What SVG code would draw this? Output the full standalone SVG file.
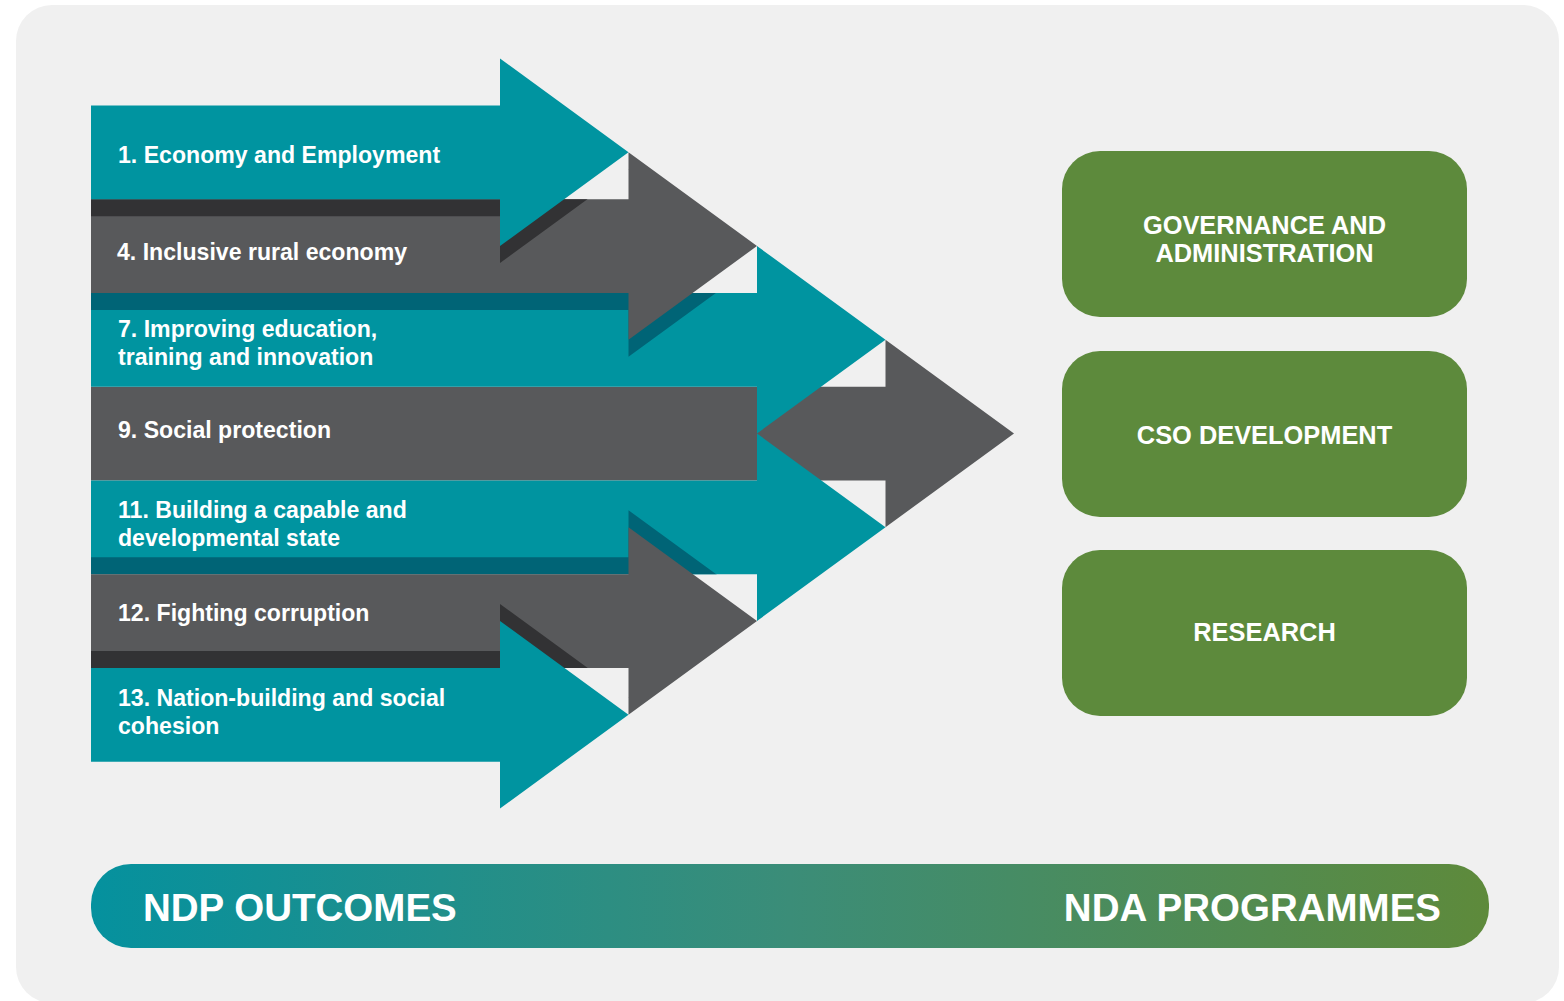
<svg xmlns="http://www.w3.org/2000/svg" xmlns:xlink="http://www.w3.org/1999/xlink" width="1564" height="1001" viewBox="0 0 1564 1001">
  <style>
    .teal { fill: #0094a0; }
    .grey { fill: #58595b; }
    .shade-grey { fill: #323234; }
    .shade-teal { fill: #006476; }
    .prog { fill: #5d8a3c; }
    .lbl { font-family: "Liberation Sans", Arial, sans-serif; font-weight: bold; fill: #ffffff; }
    .row { font-size: 23.1px; }
    .box { font-size: 25.4px; text-anchor: middle; }
    .band { font-size: 38.5px; }
  </style>
  <defs>
    <!-- arrow outlines: body from x=91, head 128.5 long, head half-height 93.75 -->
    <polygon id="a1" points="91,105.375 500,105.375 500,58.5 628.5,152.25 500,246 500,199.125 91,199.125"/>
    <polygon id="a2" points="91,199.125 628.5,199.125 628.5,152.25 757,246 628.5,339.75 628.5,292.875 91,292.875"/>
    <polygon id="a3" points="91,292.875 757,292.875 757,246 885.5,339.75 757,433.5 757,386.625 91,386.625"/>
    <polygon id="a4" points="91,386.625 885.5,386.625 885.5,339.75 1014,433.5 885.5,527.25 885.5,480.375 91,480.375"/>
    <polygon id="a5" points="91,480.375 757,480.375 757,433.5 885.5,527.25 757,621 757,574.125 91,574.125"/>
    <polygon id="a6" points="91,574.125 628.5,574.125 628.5,527.25 757,621 628.5,714.75 628.5,667.875 91,667.875"/>
    <polygon id="a7" points="91,667.875 500,667.875 500,621 628.5,714.75 500,808.5 500,761.625 91,761.625"/>
    <clipPath id="on-a2"><use xlink:href="#a2"/></clipPath>
    <clipPath id="on-a3"><use xlink:href="#a3"/></clipPath>
    <clipPath id="on-a5"><use xlink:href="#a5"/></clipPath>
    <clipPath id="on-a6"><use xlink:href="#a6"/></clipPath>
    <linearGradient id="band-grad" x1="0" y1="0" x2="1" y2="0">
      <stop offset="0" stop-color="#05919e"/>
      <stop offset="0.5" stop-color="#3b8d78"/>
      <stop offset="1" stop-color="#5e8a3b"/>
    </linearGradient>
  </defs>

  <rect x="0" y="0" width="1564" height="1001" fill="#ffffff"/>
  <rect x="16" y="5" width="1543" height="998" rx="36" fill="#f0f0f0"/>

  <!-- centre row sits lowest, outer rows overlap inwards -->
  <g id="outcome-9">
    <use xlink:href="#a4" class="grey"/>
    <text class="lbl row" x="118" y="438">9. Social protection</text>
  </g>
  <g id="outcome-7">
    <use xlink:href="#a3" class="teal"/>
    <text class="lbl row" x="118" y="337">7. Improving education,</text>
    <text class="lbl row" x="118" y="365">training and innovation</text>
  </g>
  <g id="outcome-11">
    <use xlink:href="#a5" class="teal"/>
    <text class="lbl row" x="118" y="518">11. Building a capable and</text>
    <text class="lbl row" x="118" y="546">developmental state</text>
  </g>
  <g id="outcome-4">
    <g clip-path="url(#on-a3)"><use xlink:href="#a2" class="shade-teal" transform="translate(0,17)"/></g>
    <use xlink:href="#a2" class="grey"/>
    <text class="lbl row" x="117" y="260">4. Inclusive rural economy</text>
  </g>
  <g id="outcome-12">
    <g clip-path="url(#on-a5)"><use xlink:href="#a6" class="shade-teal" transform="translate(0,-17)"/></g>
    <use xlink:href="#a6" class="grey"/>
    <text class="lbl row" x="118" y="621">12. Fighting corruption</text>
  </g>
  <g id="outcome-1">
    <g clip-path="url(#on-a2)"><use xlink:href="#a1" class="shade-grey" transform="translate(0,17)"/></g>
    <use xlink:href="#a1" class="teal"/>
    <text class="lbl row" x="118" y="163">1. Economy and Employment</text>
  </g>
  <g id="outcome-13">
    <g clip-path="url(#on-a6)"><use xlink:href="#a7" class="shade-grey" transform="translate(0,-17)"/></g>
    <use xlink:href="#a7" class="teal"/>
    <text class="lbl row" x="118" y="706">13. Nation-building and social</text>
    <text class="lbl row" x="118" y="734">cohesion</text>
  </g>

  <!-- programme boxes -->
  <g id="prog-governance">
    <rect class="prog" x="1062" y="151" width="405" height="166" rx="38"/>
    <text class="lbl box" x="1264.5" y="234">GOVERNANCE AND</text>
    <text class="lbl box" x="1264.5" y="262">ADMINISTRATION</text>
  </g>
  <g id="prog-cso">
    <rect class="prog" x="1062" y="351" width="405" height="166" rx="38"/>
    <text class="lbl box" x="1264.5" y="444">CSO DEVELOPMENT</text>
  </g>
  <g id="prog-research">
    <rect class="prog" x="1062" y="550" width="405" height="166" rx="38"/>
    <text class="lbl box" x="1264.5" y="641">RESEARCH</text>
  </g>

  <!-- legend band -->
  <g id="legend">
    <rect x="91" y="864" width="1398" height="84" rx="40" fill="url(#band-grad)"/>
    <text class="lbl band" x="143" y="921">NDP OUTCOMES</text>
    <text class="lbl band" x="1441" y="921" text-anchor="end">NDA PROGRAMMES</text>
  </g>
</svg>
